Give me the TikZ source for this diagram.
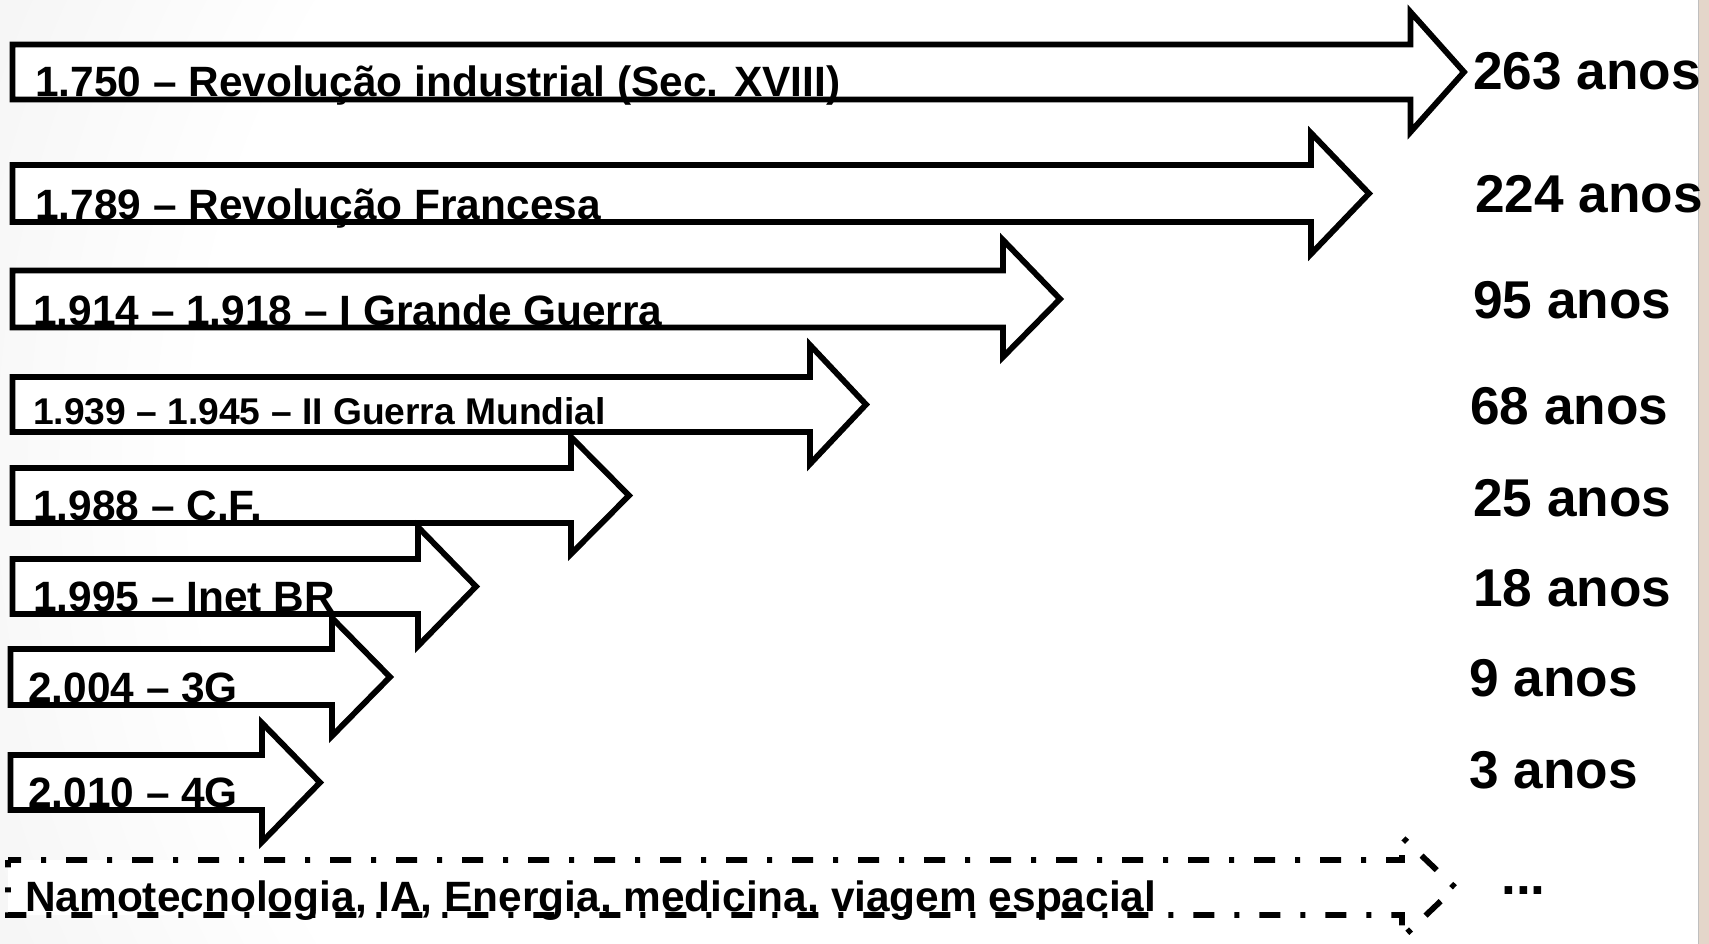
\documentclass[tikz,border=0pt]{standalone}
\usepackage{fontspec}
\setmainfont{Liberation Sans}
\definecolor{bggray}{RGB}{204,204,204}
\definecolor{stripc}{RGB}{228,214,202}
\pgfdeclareradialshading{bgrad}{\pgfpoint{0bp}{0bp}}{color(0bp)=(white); color(18bp)=(white); color(50bp)=(bggray)}
\newcommand\blockarr[8]{%
  \draw[#1] (#2,#3) -- (#5,#3) -- (#5,#6) -- (#8,{(#3+#4)/2}) -- (#5,#7) -- (#5,#4) -- (#2,#4) -- cycle;}
\begin{document}
\begin{tikzpicture}[x=1pt,y=-1pt,
  arr/.style={draw=black, fill=white, line width=5.8pt, line join=miter, miter limit=10},
  darr/.style={arr, dash pattern=on 21pt off 20pt on 5pt off 20pt, dash phase=8pt},
  evt/.style={anchor=base west, inner sep=0pt, font=\bfseries\fontsize{42.4}{42}\selectfont},
  evts/.style={evt, font=\bfseries\fontsize{37.2}{37}\selectfont},
  yrs/.style={anchor=base west, inner sep=0pt, font=\bfseries\fontsize{53.2}{53}\selectfont}]
\useasboundingbox (0,0) rectangle (1709,944);
\begin{scope}
  \clip (0,0) rectangle (1709,944);
  \shade[shading=bgrad] (1100,470) circle (1250);
\end{scope}
\fill[stripc] (1698,0) rectangle (1709,944);
\draw[gray!50, line width=1pt] (1698,0) -- (1698,944);

\blockarr{arr}{12.5}{44.5}{99.5}{1410.5}{12}{132}{1464}
\node[evt] (e1) at (35,97) {1.750 – Revolução industrial (Sec. XVIII)};
\blockarr{arr}{12.5}{165}{222}{1311}{133}{254}{1369}
\node[evt] (e2) at (35,219.5) {1.789 – Revolução Francesa};
\blockarr{arr}{12.5}{270.5}{327.5}{1003}{240}{357}{1060}
\node[evt] (e3) at (33,325) {1.914 – 1.918 – I Grande Guerra};
\blockarr{arr}{12.5}{377}{432}{810}{345}{464}{866}
\node[evts] (e4) at (33,424) {1.939 – 1.945 – II Guerra Mundial};
\blockarr{arr}{12.5}{468}{523}{571}{437}{554}{629}
\node[evt] (e5) at (33,520.5) {1.988 – C.F.};
\blockarr{arr}{12.5}{559}{614}{418}{527}{646}{476}
\node[evt] (e6) at (33,611) {1.995 – Inet BR};
\blockarr{arr}{10.5}{649}{705}{332}{618}{736}{390}
\node[evt] (e7) at (28,702) {2.004 – 3G};
\blockarr{arr}{10.5}{755}{810}{262}{723}{842}{320}
\node[evt] (e8) at (28,807) {2.010 – 4G};
\blockarr{darr}{8}{860}{915}{1402}{837}{938}{1455}
\node[evt] (e9) at (25,911) {Namotecnologia, IA, Energia, medicina, viagem espacial};

\node[yrs] (y1) at (1473,90) {263 anos};
\node[yrs] (y2) at (1475,213) {224 anos};
\node[yrs] (y3) at (1473,318) {95 anos};
\node[yrs] (y4) at (1470,424) {68 anos};
\node[yrs] (y5) at (1473,516) {25 anos};
\node[yrs] (y6) at (1473,606) {18 anos};
\node[yrs] (y7) at (1469,696) {9 anos};
\node[yrs] (y8) at (1469,788) {3 anos};
\node[yrs] (y9) at (1501,894) {...};
\end{tikzpicture}
\end{document}
